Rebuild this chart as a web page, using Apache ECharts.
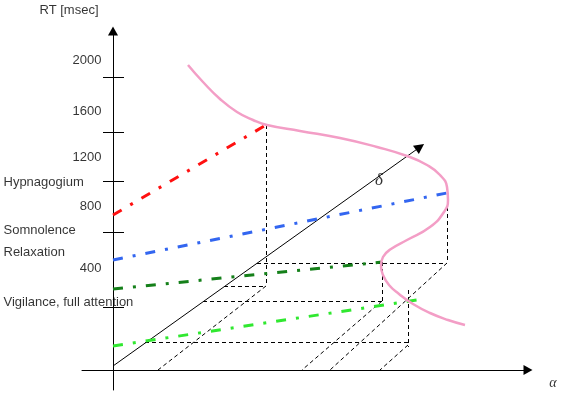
<!DOCTYPE html>
<html>
<head>
<meta charset="utf-8">
<script src="https://cdn.jsdelivr.net/npm/echarts@6/dist/echarts.min.js"></script>
<style>
html,body{margin:0;padding:0;background:#fff;}
#chart{width:566px;height:394px;}
</style>
</head>
<body>
<div id="chart"></div>
<script>
// Diagram units: x = α direction, y = RT direction (origin at axis crossing)
const tickLabels = ['2000', '1600', '1200', '800', '400'];
const tickLabelY = [310, 259, 213, 164, 102];
const axisTicks = [293, 238, 189, 138, 63];
const stateNames = ['Hypnagogium', 'Somnolence', 'Relaxation', 'Vigilance, full attention'];
const stateY = [188, 140, 118, 68];

const redLine = [[0, 155], [153, 245]];
const blueLine = [[0, 110], [334, 177]];
const darkGreenLine = [[0, 81], [269, 108]];
const lightGreenLine = [[0, 24], [304, 70]];

const deltaAxis = [[0, 4], [307, 223]];

const rtCurve = [
  [75, 305], [90, 288], [107, 271], [124, 258], [140, 250], [154, 245],
  [187, 239], [227, 232], [264, 223], [294, 214], [314, 205], [327, 195],
  [334, 183], [335, 170], [331, 158], [317, 143], [294, 130], [278, 121],
  [270, 113], [268, 104], [270, 95], [276, 85], [286, 76], [300, 66],
  [317, 57], [335, 50], [352, 45]
];

const projections = [
  [[153, 245], [153, 84]], [[111, 84], [153, 84]], [[153, 84], [45, 0]],
  [[334, 177], [334, 107]], [[144, 107], [334, 107]], [[334, 107], [217, 0]],
  [[269, 108], [269, 69]], [[90, 69], [269, 69]], [[269, 69], [189, 0]],
  [[295, 80], [295, 23]], [[32, 28], [297, 28]], [[295, 25], [267, 0]]
];

const dashDot = [10, 10, 3, 10];
const font = '"Liberation Sans", Arial, sans-serif';

function colored(data, color) {
  return {
    type: 'line', data: data, symbol: 'none', silent: true, z: 3,
    lineStyle: { color: color, width: 3, type: dashDot, cap: 'butt' }
  };
}

const chart = echarts.init(document.getElementById('chart'), null, { renderer: 'canvas' });
chart.setOption({
  animation: false,
  backgroundColor: '#fff',
  grid: { left: 82, right: 38, top: 31, bottom: 4 },
  xAxis: {
    type: 'value', min: -31, max: 415,
    axisLine: { onZero: true, symbol: ['none', 'triangle'], symbolSize: [10, 9], lineStyle: { color: '#000', width: 1 } },
    axisTick: { show: false }, axisLabel: { show: false }, splitLine: { show: false }
  },
  yAxis: {
    type: 'value', min: -20, max: 339,
    axisLine: { show: true, onZero: true, symbol: ['none', 'triangle'], symbolSize: [10, 9], lineStyle: { color: '#000', width: 1 } },
    axisTick: { show: false }, axisLabel: { show: false }, splitLine: { show: false }
  },
  series: [
    {
      type: 'lines', coordinateSystem: 'cartesian2d', silent: true, z: 2,
      lineStyle: { color: '#000', width: 1, type: [4, 3], opacity: 1 },
      data: projections.map(c => ({ coords: c }))
    },
    {
      type: 'lines', coordinateSystem: 'cartesian2d', silent: true, z: 2,
      lineStyle: { color: '#000', width: 1, opacity: 1 },
      data: axisTicks.map(v => ({ coords: [[-10, v], [11, v]] }))
    },
    {
      type: 'lines', coordinateSystem: 'cartesian2d', silent: true, z: 2,
      symbol: ['none', 'triangle'], symbolSize: 10,
      lineStyle: { color: '#000', width: 1, opacity: 1 },
      itemStyle: { color: '#000' },
      data: [{ coords: deltaAxis }]
    },
    colored(redLine, '#ff1010'),
    colored(blueLine, '#3366f0'),
    colored(darkGreenLine, '#15801a'),
    colored(lightGreenLine, '#30e830'),
    {
      type: 'line', data: rtCurve, symbol: 'none', smooth: 0.5, silent: true, z: 4,
      lineStyle: { color: '#f39ec6', width: 2.5 }
    },
    {
      type: 'scatter', clip: false, silent: true, symbolSize: 1,
      itemStyle: { color: 'transparent' },
      label: { show: true, position: 'left', distance: 0, formatter: p => p.data.name, color: '#000', fontSize: 13, fontFamily: font },
      data: tickLabels.map((t, i) => ({ name: t, value: [-11, tickLabelY[i]] }))
    },
    {
      type: 'scatter', clip: false, silent: true, symbolSize: 1,
      itemStyle: { color: 'transparent' },
      label: { show: true, position: 'right', distance: 0, formatter: p => p.data.name, color: '#000', fontSize: 13, fontFamily: font },
      data: stateNames.map((t, i) => ({ name: t, value: [-110, stateY[i]] }))
    },
    {
      type: 'scatter', clip: false, silent: true, symbolSize: 1,
      itemStyle: { color: 'transparent' },
      label: { show: true, position: 'inside', formatter: p => p.data.name, color: '#000', fontSize: 13, fontFamily: font },
      data: [{ name: 'RT [msec]', value: [-44, 360] }]
    },
    {
      type: 'scatter', clip: false, silent: true, symbolSize: 1,
      itemStyle: { color: 'transparent' },
      label: { show: true, position: 'inside', formatter: p => p.data.name, color: '#000', fontSize: 14, fontStyle: 'italic', fontFamily: '"Liberation Serif", "DejaVu Serif", serif' },
      data: [{ name: 'α', value: [440, -13] }]
    },
    {
      type: 'scatter', clip: false, silent: true, symbolSize: 1,
      itemStyle: { color: 'transparent' },
      label: { show: true, position: 'inside', formatter: p => p.data.name, color: '#000', fontSize: 17, fontStyle: 'italic', fontFamily: '"Liberation Serif", "DejaVu Serif", serif' },
      data: [{ name: 'δ', value: [266, 189] }]
    }
  ]
});
</script>
</body>
</html>
